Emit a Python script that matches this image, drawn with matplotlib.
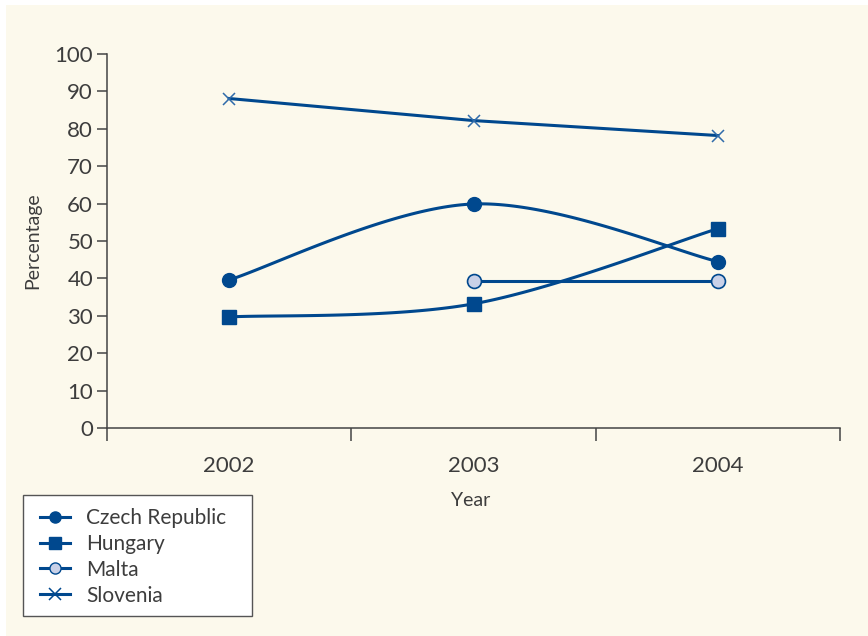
import numpy as np
import matplotlib
matplotlib.use("Agg")
import matplotlib.pyplot as plt
from matplotlib.patches import Rectangle

plt.rcParams['font.family'] = ['Lato', 'DejaVu Sans']

years = ["2002", "2003", "2004"]
czech = [39.6, 59.9, 44.5]
hungary = [29.7, 33.2, 53.3]
malta_x = [1, 2]
malta = [39.4, 39.4]
slovenia = [88.1, 82.2, 78.2]

blue = "#00488E"
txt = "#3d3d3d"
cream = "#FCF9EC"
W, H = 868, 636


def smooth(xs, ys, n=60):
    # catmull-rom with doubled end points, like a spreadsheet "smoothed line"
    px = np.concatenate([[xs[0]], xs, [xs[-1]]]).astype(float)
    py = np.concatenate([[ys[0]], ys, [ys[-1]]]).astype(float)
    outx, outy = [], []
    t = np.linspace(0, 1, n)
    for i in range(1, len(px) - 2):
        for arr, out in ((px, outx), (py, outy)):
            p0, p1, p2, p3 = arr[i - 1], arr[i], arr[i + 1], arr[i + 2]
            out.extend(0.5 * ((2 * p1) + (-p0 + p2) * t
                              + (2 * p0 - 5 * p1 + 4 * p2 - p3) * t ** 2
                              + (-p0 + 3 * p1 - 3 * p2 + p3) * t ** 3))
    return outx, outy


fig = plt.figure(figsize=(W / 100, H / 100), dpi=100)
fig.patch.set_facecolor("white")
fig.patches.append(Rectangle((6 / W, 0), 1, 1 - 5 / H, transform=fig.transFigure,
                             facecolor=cream, edgecolor="none", zorder=-10))

ax = fig.add_axes([107 / W, 1 - 428 / H, (840 - 107) / W, (428 - 54) / H])
ax.patch.set_alpha(0)

x = np.arange(len(years))

sx, sy = smooth(x, czech)
ax.plot(sx, sy, color=blue, lw=2.2, zorder=2)
ax.plot(x, czech, ls="none", marker="o", ms=10, color=blue, zorder=3)

sx, sy = smooth(x, hungary)
ax.plot(sx, sy, color=blue, lw=2.2, zorder=2)
ax.plot(x, hungary, ls="none", marker="s", ms=10, color=blue, zorder=3)

ax.plot(malta_x, malta, color=blue, lw=2.2, zorder=2)
ax.plot(malta_x, malta, ls="none", marker="o", ms=10, mfc="#C9D1E8", mec=blue, mew=1.2, zorder=3)

ax.plot(x, slovenia, color=blue, lw=2.2, zorder=2)
ax.plot(x, slovenia, ls="none", marker="x", ms=9, mew=1.1, color="#2F6BAA", zorder=3)

ax.set_xlim(-0.5, 2.5)
ax.set_ylim(0, 100)
ax.set_yticks(range(0, 101, 10))
ax.set_xticks([-0.5, 0.5, 1.5, 2.5])
ax.set_xticklabels([])
ax.set_xticks(x, minor=True)
ax.set_xticklabels(years, minor=True)
ax.tick_params(axis="x", which="minor", length=0, pad=20, labelsize=16, labelcolor=txt)
ax.tick_params(axis="x", which="major", length=9, width=1.1, color="#444444", direction="out")
ax.tick_params(axis="y", length=7, width=1.1, color="#444444", labelsize=16, labelcolor=txt, pad=3)

for s in ["top", "right"]:
    ax.spines[s].set_visible(False)
for s in ["left", "bottom"]:
    ax.spines[s].set_color("#444444")
    ax.spines[s].set_linewidth(1.1)

fig.text(471 / W, 1 - 500 / H, "Year", ha="center", va="center", fontsize=14, color=txt)
fig.text(33 / W, 1 - 241 / H, "Percentage", ha="center", va="center", rotation=90,
         fontsize=14, color=txt)

# legend box
fig.patches.append(Rectangle((23 / W, 1 - 616 / H), (252 - 23) / W, (616 - 495) / H,
                             transform=fig.transFigure, facecolor="white",
                             edgecolor="#555555", lw=1.0, zorder=5))

handles = [
    plt.Line2D([], [], color=blue, lw=2.2, marker="o", ms=8),
    plt.Line2D([], [], color=blue, lw=2.2, marker="s", ms=8),
    plt.Line2D([], [], color=blue, lw=2.2, marker="o", ms=8, mfc="#C9D1E8", mec=blue),
    plt.Line2D([], [], color=blue, lw=2.2, marker="x", ms=8, mew=1.1),
]
leg = fig.legend(handles, ["Czech Republic", "Hungary", "Malta", "Slovenia"],
                 loc="upper left", bbox_to_anchor=(40 / W, 1 - 508 / H),
                 frameon=False, fontsize=15, handlelength=1.45,
                 labelspacing=0.28, borderpad=0, handletextpad=0.75,
                 borderaxespad=0)
leg.set_zorder(6)
for t in leg.get_texts():
    t.set_color(txt)

fig.savefig("out.png", dpi=100, facecolor=fig.get_facecolor())
